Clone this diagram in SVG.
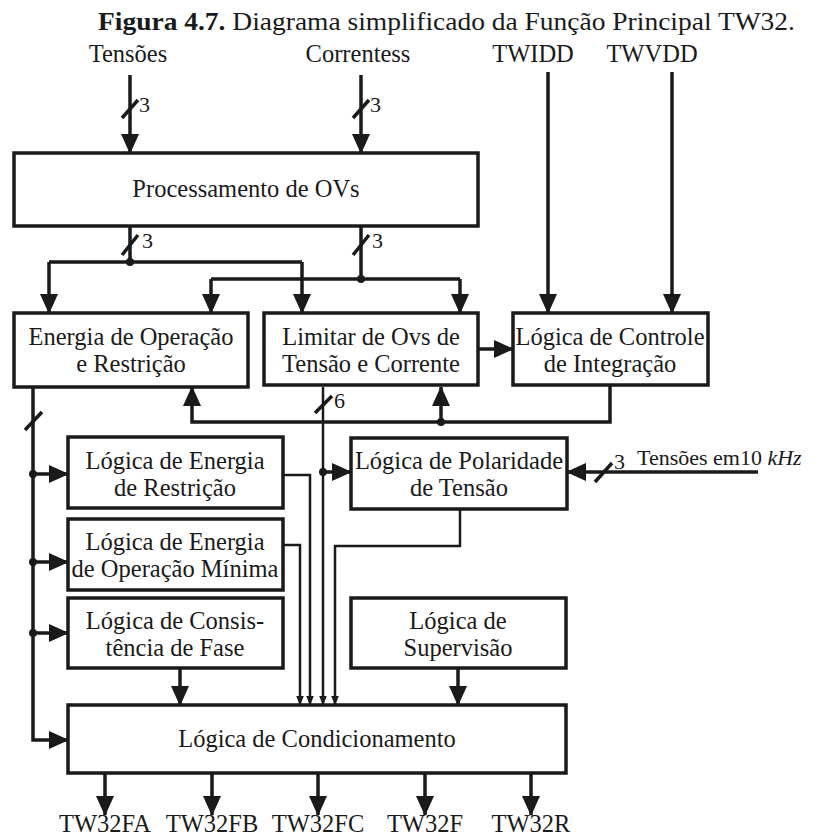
<svg xmlns="http://www.w3.org/2000/svg" width="830" height="837" viewBox="0 0 830 837">
<defs>
<marker id="big" markerUnits="userSpaceOnUse" viewBox="0 0 20 18" refX="19" refY="9" markerWidth="20" markerHeight="18" orient="auto"><path d="M0,0 L20,9 L0,18 z" fill="#1a1a1a"/></marker>
<marker id="sm" markerUnits="userSpaceOnUse" viewBox="0 0 10 8" refX="9.5" refY="4" markerWidth="10" markerHeight="8" orient="auto"><path d="M0,0 L10,4 L0,8 z" fill="#1a1a1a"/></marker>
<style>
text{font-family:"Liberation Serif","Tinos","Times New Roman","DejaVu Serif",serif;fill:#1a1a1a}
.box{fill:#fff;stroke:#1a1a1a;stroke-width:3.5}
.t{font-size:24.5px;text-anchor:middle}
.l{font-size:22px}
.w{fill:none;stroke:#1a1a1a;stroke-width:3.5}
.ws{fill:none;stroke:#1a1a1a;stroke-width:2.5}
.a{marker-end:url(#big)}
.s{marker-end:url(#sm)}
.dot{fill:#1a1a1a}
</style>
</defs>
<rect width="830" height="837" fill="#fff"/>
<text x="98" y="30" font-size="26" textLength="697" lengthAdjust="spacingAndGlyphs"><tspan font-weight="bold">Figura 4.7.</tspan> Diagrama simplificado da Função Principal TW32.</text>
<g id="inputs">
<text class="t" x="128" y="62" font-size="23">Tensões</text>
<text class="t" x="358" y="62" font-size="23">Correntess</text>
<text class="t" x="533" y="62" font-size="23">TWIDD</text>
<text class="t" x="652" y="62" font-size="23">TWVDD</text>
</g>
<g id="connectors">
<path class="w a" d="M130,75 V153"/>
<path class="w a" d="M361,75 V153"/>
<path class="w a" d="M548,72 V313"/>
<path class="w a" d="M672,72 V313"/>
<path class="w" d="M122,118 L138,100 M353,118 L369,100"/>
<text class="l" x="139" y="112">3</text>
<text class="l" x="370" y="112">3</text>
<path class="w" d="M130,226 V262 M49,262 H302"/>
<path class="w a" d="M49,262 V313"/>
<path class="w a" d="M302,262 V313"/>
<circle class="dot" cx="130" cy="262" r="4"/>
<path class="w" d="M122,255 L138,235 M353,255 L369,235"/>
<text class="l" x="142" y="248">3</text>
<text class="l" x="372" y="248">3</text>
<path class="w" d="M361,226 V279 M211,279 H460"/>
<path class="w a" d="M211,279 V313"/>
<path class="w a" d="M460,279 V313"/>
<circle class="dot" cx="361" cy="279" r="4"/>
<path class="w a" d="M478,349 H513"/>
<path class="w a" d="M610,385 V422 H192 V387"/>
<path class="w a" d="M441,422 V387"/>
<circle class="dot" cx="441" cy="422" r="4"/>
<path class="w" d="M315,413 L332,396"/>
<text class="l" x="334" y="408">6</text>
<path class="ws s" d="M323,387 V705"/>
<path class="w a" d="M323,472 H351"/>
<circle class="dot" cx="323" cy="472" r="4"/>
<path class="w a" d="M33,387 V740 H68"/>
<path class="w" d="M25,430 L42,412"/>
<path class="w a" d="M33,474 H68"/>
<path class="w a" d="M33,562 H68"/>
<path class="w a" d="M33,633 H68"/>
<circle class="dot" cx="33" cy="474" r="4"/>
<circle class="dot" cx="33" cy="562" r="4"/>
<circle class="dot" cx="33" cy="633" r="4"/>
<path class="ws s" d="M283,475 H310 V705"/>
<path class="ws s" d="M283,545 H300 V705"/>
<path class="ws s" d="M460,509 V546 H335 V705"/>
<path class="w a" d="M180,668 V705"/>
<path class="w a" d="M458,668 V705"/>
<path class="w a" d="M758,472 H567"/>
<path class="w" d="M595,482 L612,463"/>
<text class="l" x="614" y="469">3</text>
<text class="l" x="637" y="465" font-size="25">Tensões em10 <tspan font-style="italic">kHz</tspan></text>
<path class="w a" d="M105,773 V815"/>
<path class="w a" d="M212,773 V815"/>
<path class="w a" d="M318,773 V815"/>
<path class="w a" d="M425,773 V815"/>
<path class="w a" d="M531,773 V815"/>
</g>
<g id="processamento"><rect class="box" x="14" y="153" width="464" height="73"/><text class="t" x="246" y="197">Processamento de OVs</text></g>
<g id="energia"><rect class="box" x="14" y="313" width="234" height="74"/><text class="t" x="131" y="345">Energia de Operação</text><text class="t" x="131" y="372">e Restrição</text></g>
<g id="limitar"><rect class="box" x="264" y="313" width="214" height="72"/><text class="t" x="371" y="345">Limitar de Ovs de</text><text class="t" x="371" y="372">Tensão e Corrente</text></g>
<g id="controle"><rect class="box" x="513" y="313" width="195" height="72"/><text class="t" x="610" y="345">Lógica de Controle</text><text class="t" x="610" y="372">de Integração</text></g>
<g id="restricao"><rect class="box" x="68" y="437" width="215" height="71"/><text class="t" x="175" y="469">Lógica de Energia</text><text class="t" x="175" y="496">de Restrição</text></g>
<g id="minima"><rect class="box" x="68" y="519" width="215" height="71"/><text class="t" x="175" y="550">Lógica de Energia</text><text class="t" x="175" y="577">de Operação Mínima</text></g>
<g id="consistencia"><rect class="box" x="68" y="598" width="215" height="70"/><text class="t" x="175" y="629">Lógica de Consis-</text><text class="t" x="175" y="656">tência de Fase</text></g>
<g id="polaridade"><rect class="box" x="351" y="438" width="216" height="71"/><text class="t" x="459" y="469">Lógica de Polaridade</text><text class="t" x="459" y="496">de Tensão</text></g>
<g id="supervisao"><rect class="box" x="351" y="598" width="215" height="70"/><text class="t" x="458" y="629">Lógica de</text><text class="t" x="458" y="656">Supervisão</text></g>
<g id="condicionamento"><rect class="box" x="68" y="705" width="498" height="68"/><text class="t" x="317" y="747">Lógica de Condicionamento</text></g>
<g id="outputs">
<text class="t" x="105" y="832">TW32FA</text>
<text class="t" x="212" y="832">TW32FB</text>
<text class="t" x="318" y="832">TW32FC</text>
<text class="t" x="425" y="832">TW32F</text>
<text class="t" x="531" y="832">TW32R</text>
</g>
</svg>
